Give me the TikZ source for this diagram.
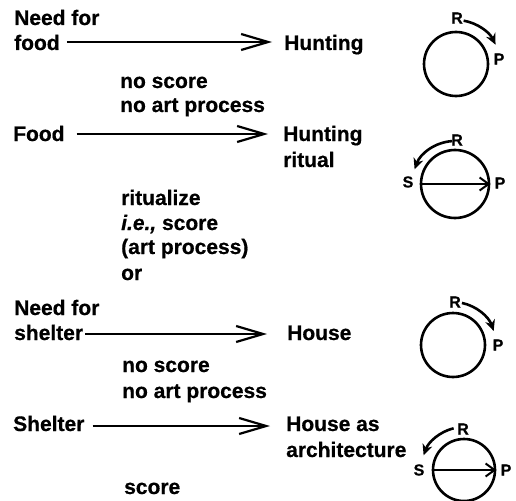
\documentclass[tikz,border=0pt]{standalone}
\usepackage{fontspec}
\setmainfont{Liberation Sans}[BoldFeatures={FakeBold=0.6},BoldItalicFeatures={FakeBold=0.6}]
\usetikzlibrary{arrows.meta,calc}
\begin{document}
\begin{tikzpicture}[x=1pt,y=1pt,
 txt/.style={font=\fontsize{21}{24}\selectfont\bfseries, inner sep=0pt, anchor=base west},
 lbl/.style={font=\fontsize{16}{18}\selectfont\bfseries, inner sep=0pt},
 mainarr/.style={line width=2.5pt, -{Straight Barb[length=27pt,width=16pt,line width=2.2pt]}},
 ring/.style={circle, draw, line width=2.6pt, inner sep=0pt},
 arcarr/.style={line width=2.6pt, -{Stealth[length=11pt,width=10pt]}},
 diam/.style={line width=1.8pt, -{Straight Barb[length=9pt,width=13pt,line width=2pt]}}]
\useasboundingbox (0,0) rectangle (516,-500);
% row 1
\node[txt] (n1a) at (14,-25) {Need for};
\node[txt] (n1b) at (14,-50) {food};
\node[txt] (t1) at (284,-50) {Hunting};
\draw[mainarr] ($(n1b.base east)+(7,8)$) -- ($(t1.base west)+(-12,8)$);
\node[txt] (ns1) at (120,-88) {no score};
\node[txt] (na1) at (120,-112) {no art process};
% row 2
\node[txt] (f2) at (13,-141) {Food};
\node[txt] (t2) at (283,-141) {Hunting};
\node[txt] (t2b) at (283,-167) {ritual};
\draw[mainarr] ($(f2.base east)+(12,7)$) -- ($(t2.base west)+(-15,7)$);
\node[txt] (r1) at (121,-205) {ritualize};
\node[txt] (r2) at (121,-230) {{\itshape i.e.,} score};
\node[txt] (r3) at (121,-254) {(art process)};
\node[txt] (r4) at (121,-280) {or};
% row 3
\node[txt] (n3a) at (14,-315) {Need for};
\node[txt] (n3b) at (14,-340) {shelter};
\node[txt] (t3) at (287,-340) {House};
\draw[mainarr] ($(n3b.base east)+(2,6)$) -- ($(t3.base west)+(-20,6)$);
\node[txt] (ns3) at (122,-372) {no score};
\node[txt] (na3) at (122,-398) {no art process};
% row 4
\node[txt] (f4) at (13,-431) {Shelter};
\node[txt] (t4) at (286,-431) {House as};
\node[txt] (t4b) at (286,-457) {architecture};
\draw[mainarr] ($(f4.base east)+(8,5)$) -- ($(t4.base west)+(-16,5)$);
\node[txt] (sc) at (124,-494) {score};
% circle 1
\node[ring, minimum size=64pt] (c1) at (456,-64) {};
\node[lbl] (R1) at (457,-18) {R};
\node[lbl] (P1) at (499,-59) {P};
\draw[arcarr] ([shift={(80:44)}]c1.center) arc[start angle=80, end angle=26, radius=44];
% circle 2
\node[ring, minimum size=68pt] (c2) at (455,-184) {};
\node[lbl] (R2) at (457,-140) {R};
\node[lbl] (S2) at (408,-182) {S};
\node[lbl] (P2) at (500,-183) {P};
\draw[arcarr] ([shift={(94:43)}]c2.center) arc[start angle=94, end angle=160, radius=43];
\draw[diam] (c2.west) -- (c2.east);
% circle 3
\node[ring, minimum size=64pt] (c3) at (453,-345) {};
\node[lbl] (R3) at (455,-302) {R};
\node[lbl] (P3) at (498,-345) {P};
\draw[arcarr] ([shift={(78:43)}]c3.center) arc[start angle=78, end angle=19, radius=43];
% circle 4
\node[ring, minimum size=62pt] (c4) at (464,-470) {};
\node[lbl] (R4) at (463,-429) {R};
\node[lbl] (S4) at (419,-470) {S};
\node[lbl] (P4) at (506,-470) {P};
\draw[arcarr] ([shift={(104:43)}]c4.center) arc[start angle=104, end angle=160, radius=43];
\draw[diam] (c4.west) -- (c4.east);
\end{tikzpicture}
\end{document}
